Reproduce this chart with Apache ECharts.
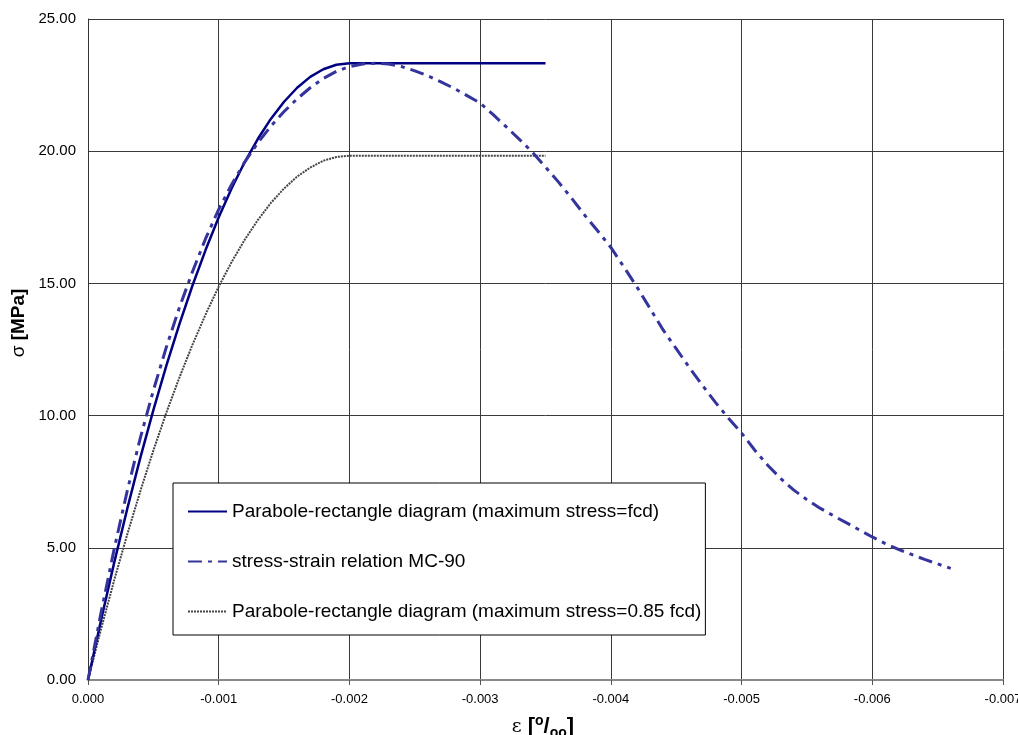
<!DOCTYPE html>
<html>
<head>
<meta charset="utf-8">
<script src="https://cdn.jsdelivr.net/npm/echarts@6/dist/echarts.min.js"></script>
<style>
html,body{margin:0;padding:0;background:#fff;}
#c{width:1018px;height:735px;}
</style>
</head>
<body>
<div id="c"></div>
<script>
// Parabole-rectangle diagrams (strain, stress)
var strainPR = [0,-0.0001,-0.0002,-0.0003,-0.0004,-0.0005,-0.0006,-0.0007,-0.0008,-0.0009,-0.0010,
  -0.0011,-0.0012,-0.0013,-0.0014,-0.0015,-0.0016,-0.0017,-0.0018,-0.0019,-0.0020,-0.0035];
var stressPR = [0,2.27,4.43,6.47,8.40,10.21,11.90,13.47,14.93,16.27,17.50,
  18.61,19.60,20.47,21.23,21.87,22.40,22.81,23.10,23.27,23.33,23.33];
var stressPR85 = [0,1.93,3.77,5.50,7.14,8.68,10.12,11.45,12.69,13.83,14.88,
  15.82,16.66,17.40,18.05,18.59,19.04,19.38,19.64,19.78,19.83,19.83];
// MC-90 stress-strain relation
var strainMC = [0,-0.0001,-0.0002,-0.0003,-0.0004,-0.0005,-0.0006,-0.0007,-0.0008,-0.0009,
  -0.0010,-0.0011,-0.0012,-0.0013,-0.0014,-0.0015,-0.0016,-0.0017,-0.0018,-0.0019,
  -0.0020,-0.0021,-0.0022,-0.0023,-0.0024,-0.0025,-0.0026,-0.0027,-0.0028,-0.0029,
  -0.0030,-0.0031,-0.0032,-0.0033,-0.0034,-0.0035,-0.0036,-0.0037,-0.0038,-0.0039,
  -0.0040,-0.0041,-0.0042,-0.0043,-0.0044,-0.0045,-0.0046,-0.0047,-0.0048,-0.0049,
  -0.0050,-0.0051,-0.0052,-0.0053,-0.0054,-0.0055,-0.0056,-0.0057,-0.0058,-0.0059,
  -0.0060,-0.0061,-0.0062,-0.0063,-0.0064,-0.0065,-0.0066];
var stressMC = [0,2.55,4.95,7.15,9.15,10.95,12.60,14.10,15.45,16.70,
  17.80,18.75,19.60,20.32,20.95,21.50,21.98,22.40,22.75,23.02,
  23.20,23.30,23.33,23.30,23.20,23.04,22.85,22.62,22.38,22.10,
  21.82,21.38,20.92,20.45,19.96,19.40,18.83,18.22,17.58,16.98,
  16.36,15.62,14.86,14.05,13.24,12.53,11.82,11.15,10.50,9.90,
  9.34,8.70,8.12,7.62,7.18,6.82,6.50,6.22,5.95,5.68,
  5.41,5.16,4.94,4.75,4.56,4.39,4.22];
var seriesNames = ['Parabole-rectangle diagram (maximum stress=fcd)',
  'stress-strain relation MC-90',
  'Parabole-rectangle diagram (maximum stress=0.85 fcd)'];
var xTicks = {min:-0.007, max:0, step:0.001};
var yTicks = {min:0, max:25, step:5};

function pairs(xs, ys){ return xs.map(function(x,i){ return [x, ys[i]]; }); }

var chart = echarts.init(document.getElementById('c'), null, {renderer:'canvas'});
var FONT = 'Liberation Sans, Arial, sans-serif';
var HIDE = {color:'rgba(0,0,0,0)', borderWidth:0};
chart.setOption({
  animation:false,
  backgroundColor:'#fff',
  grid:{left:88, right:15, top:19, bottom:55, outerBoundsMode:'none', containLabel:false},
  xAxis:{
    type:'value', min:xTicks.min, max:xTicks.max, interval:xTicks.step, inverse:true,
    axisLine:{show:true, onZero:false, lineStyle:{color:'#8a8a8a', width:2}},
    axisTick:{show:true, length:5, lineStyle:{color:'#555'}},
    axisLabel:{color:'#000', fontFamily:FONT, fontSize:13, margin:13,
      formatter:function(v){ return Math.abs(v)<1e-9 ? '0.000' : v.toFixed(3); }},
    splitLine:{show:true, lineStyle:{color:'#3a3a3a', width:1}}
  },
  yAxis:{
    type:'value', min:yTicks.min, max:yTicks.max, interval:yTicks.step,
    axisLine:{show:true, lineStyle:{color:'#333', width:1}},
    axisTick:{show:false},
    axisLabel:{color:'#000', fontFamily:FONT, fontSize:15, margin:12,
      formatter:function(v){ return v.toFixed(2); }},
    splitLine:{show:true, lineStyle:{color:'#3a3a3a', width:1}}
  },
  legend:{
    orient:'vertical', left:173, top:483,
    backgroundColor:'#fff', borderColor:'#000', borderWidth:1,
    padding:[19,4,14,14], itemGap:31, itemWidth:39, itemHeight:14,
    textStyle:{color:'#000', fontFamily:FONT, fontSize:19},
    data:seriesNames
  },
  graphic:[
    {type:'text', x:19, y:323, rotation:Math.PI/2,
      style:{text:'{n|σ }{b|[MPa]}', align:'center', verticalAlign:'middle',
        rich:{n:{fontSize:19, fontFamily:FONT, fill:'#000'},
              b:{fontSize:19, fontWeight:'bold', fontFamily:FONT, fill:'#000'}}}},
    {type:'text', x:543, y:727,
      style:{text:'{n|ε }{b|[}{s|o}{b|/}{u|oo}{b|]}', align:'center', verticalAlign:'middle',
        rich:{n:{fontSize:19, fontFamily:'DejaVu Serif, serif', fill:'#000', verticalAlign:'middle'},
              b:{fontSize:22, fontWeight:'bold', fontFamily:FONT, fill:'#000', lineHeight:26},
              s:{fontSize:14, fontWeight:'bold', fontFamily:FONT, fill:'#000', verticalAlign:'top'},
              u:{fontSize:14, fontWeight:'bold', fontFamily:FONT, fill:'#000', verticalAlign:'bottom'}}}}
  ],
  series:[
    {name:seriesNames[0], type:'line', showSymbol:false, symbol:'rect', symbolSize:0,
      data:pairs(strainPR, stressPR), z:3,
      lineStyle:{color:'#000080', width:2.5}, itemStyle:HIDE},
    {name:seriesNames[1], type:'line', showSymbol:false, symbol:'rect', symbolSize:0,
      data:pairs(strainMC, stressMC), z:4,
      lineStyle:{color:'#34349c', width:3, type:[14,6,4,6]}, itemStyle:HIDE},
    {name:seriesNames[2], type:'line', showSymbol:false, symbol:'rect', symbolSize:0,
      data:pairs(strainPR, stressPR85), z:2,
      lineStyle:{color:'#444', width:2, type:[2,1]}, itemStyle:HIDE}
  ]
});
</script>
</body>
</html>
